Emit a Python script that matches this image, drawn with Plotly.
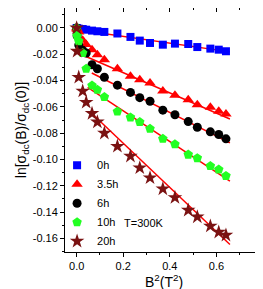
import plotly.graph_objects as go

# ---- data ----
b2 = [0, 0.002, 0.009, 0.026, 0.041, 0.066, 0.089, 0.119, 0.175, 0.231,
      0.271, 0.315, 0.37, 0.422, 0.479, 0.518, 0.574, 0.61, 0.641]

y_0h = [0, -0.0003, -0.0005, -0.0008, -0.0013, -0.002, -0.0025, -0.003, -0.0042, -0.0068,
        -0.0096, -0.0114, -0.0127, -0.0119, -0.0122, -0.0145, -0.0157, -0.0165, -0.0177]
y_35h = [0, -0.001, -0.003, -0.0094, -0.0125, -0.0165, -0.0203, -0.0241, -0.0310, -0.0367,
         -0.0393, -0.0418, -0.048, -0.0512, -0.0545, -0.0583, -0.0603, -0.0633, -0.0654]
y_6h = [0, -0.006, -0.013, -0.017, -0.019, -0.028, -0.031, -0.0375, -0.0435, -0.049,
        -0.053, -0.0557, -0.0625, -0.066, -0.0712, -0.0755, -0.079, -0.081, -0.0843]
y_10h = [0, -0.006, -0.010, -0.019, -0.031, -0.0437, -0.047, -0.0525, -0.0635, -0.068,
         -0.0715, -0.0767, -0.0842, -0.0884, -0.0963, -0.099, -0.105, -0.1077, -0.1125]
y_20h = [0, -0.0177, -0.0375, -0.048, -0.0565, -0.065, -0.0715, -0.080, -0.090, -0.0975,
         -0.1064, -0.114, -0.1224, -0.129, -0.1386, -0.1437, -0.1507, -0.1553, -0.1576]

# linear fits: (x start, x end, intercept, slope)
fit_x_start = [0.011, 0.03, 0.065, 0.047, 0.07]
fit_x_end = [0.658, 0.658, 0.658, 0.658, 0.658]
fit_intercept = [-0.0012, -0.0186, -0.0284, -0.0396, -0.0541]
fit_slope = [-0.0258, -0.0769, -0.0897, -0.1169, -0.168]

names = ["0h", "3.5h", "6h", "10h", "20h"]
series = [y_0h, y_35h, y_6h, y_10h, y_20h]
colors = ["#0000FF", "#FF0000", "#000000", "#22FF22", "#7A1212"]
symbols = ["square", "triangle-up", "circle", "pentagon", "star"]
sizes = [8, 10, 9, 10, 11]

x_ticks = [0.0, 0.2, 0.4, 0.6, 0.8]
x_ticktext = ["0.0", "0.2", "0.4", "0.6", "0.8"]
y_ticks = [0.0, -0.02, -0.04, -0.06, -0.08, -0.10, -0.12, -0.14, -0.16]
y_ticktext = ["0.00", "-0.02", "-0.04", "-0.06", "-0.08", "-0.10", "-0.12", "-0.14", "-0.16"]

x_range = [-0.05, 0.8]
y_range = [-0.1704, 0.0152]

FONT = "Liberation Sans, Arial, sans-serif"

fig = go.Figure()

for i in range(5):
    xs = [fit_x_start[i], fit_x_end[i]]
    ys = [fit_intercept[i] + fit_slope[i] * v for v in xs]
    fig.add_trace(go.Scatter(x=xs, y=ys, mode="lines",
                             line=dict(color="#FF0000", width=1.5),
                             showlegend=False, hoverinfo="skip"))

for i in range(5):
    fig.add_trace(go.Scatter(x=b2, y=series[i], mode="markers", name=names[i],
                             marker=dict(symbol=symbols[i], color=colors[i], size=sizes[i],
                                         line=dict(width=0))))

# dummy trace to show the mirrored top/right axes
fig.add_trace(go.Scatter(x=[None], y=[None], xaxis="x2", yaxis="y2", showlegend=False))

fig.add_annotation(x=0.289, y=-0.148, xref="x", yref="y", text="T=300K", showarrow=False,
                   font=dict(size=11, color="black", family=FONT))

axis_common = dict(showgrid=False, zeroline=False, showline=True, linecolor="black",
                   linewidth=1, tickcolor="black", tickwidth=1)

fig.update_layout(
    width=263, height=289,
    margin=dict(l=57, r=8, t=0, b=45),
    paper_bgcolor="white", plot_bgcolor="white",
    font=dict(family=FONT, size=11, color="black"),
    xaxis=dict(range=x_range, tickvals=x_ticks, ticktext=x_ticktext, ticks="outside",
               ticklen=4, minor=dict(dtick=0.1, tick0=0, ticks="outside", ticklen=2,
                                     tickcolor="black"),
               title=dict(text="B<sup>2</sup>(T<sup>2</sup>)", font=dict(size=14), standoff=4),
               tickfont=dict(size=11), mirror=True, **axis_common),
    yaxis=dict(range=y_range, tickvals=y_ticks, ticktext=y_ticktext, ticks="outside",
               ticklen=4, minor=dict(dtick=0.01, tick0=0, ticks="outside", ticklen=2,
                                     tickcolor="black"),
               title=dict(text="ln[σ<sub>dc</sub>(B)/σ<sub>dc</sub>(0)]", font=dict(size=14),
                          standoff=2),
               tickfont=dict(size=11), mirror=True, **axis_common),
    xaxis2=dict(range=x_range, overlaying="x", side="top", anchor="y2", tickvals=x_ticks,
                showticklabels=False, ticks="inside", ticklen=4,
                minor=dict(dtick=0.1, tick0=0, ticks="inside", ticklen=2, tickcolor="black"),
                **axis_common),
    yaxis2=dict(range=y_range, overlaying="y", side="right", anchor="x2", tickvals=y_ticks,
                showticklabels=False, ticks="inside", ticklen=4,
                minor=dict(dtick=0.01, tick0=0, ticks="inside", ticklen=2, tickcolor="black"),
                **axis_common),
    legend=dict(x=-0.04, xanchor="left", y=0.2, yanchor="middle",
                bgcolor="rgba(0,0,0,0)", font=dict(size=11), tracegroupgap=0),
    showlegend=True,
)

fig.write_html("out.html")
